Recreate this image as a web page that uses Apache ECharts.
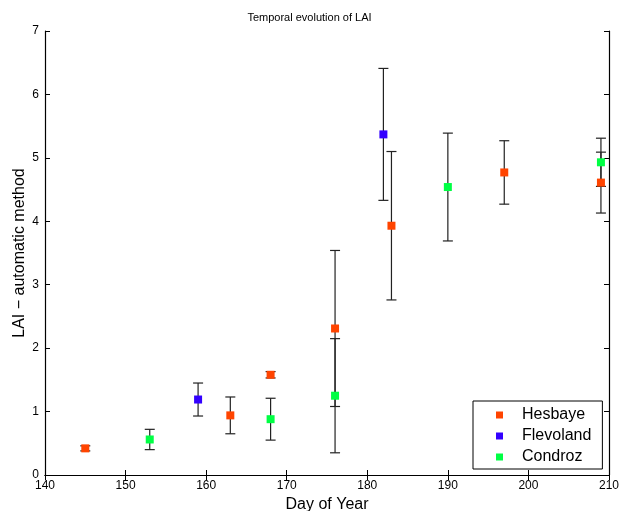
<!DOCTYPE html>
<html><head><meta charset="utf-8">
<script src="https://cdn.jsdelivr.net/npm/echarts@6/dist/echarts.min.js"></script>
<style>html,body{margin:0;padding:0;background:#fff}#c{width:619px;height:511px}</style>
</head><body><div id="c"></div>
<script>
const seriesNames = ['Hesbaye', 'Flevoland', 'Condroz'];
const seriesColors = ['#ff4400', '#3300ff', '#00ff44'];
const hesbayeDays = [145, 163, 168, 176, 183, 197, 209];
const hesbayeLAI  = [0.42, 0.94, 1.58, 2.31, 3.93, 4.77, 4.61];
const hesbayeErr  = [0.04, 0.29, 0.05, 1.23, 1.17, 0.50, 0.48];
const flevolandDays = [159, 182];
const flevolandLAI  = [1.19, 5.37];
const flevolandErr  = [0.26, 1.04];
const condrozDays = [153, 168, 176, 190, 209];
const condrozLAI  = [0.56, 0.88, 1.25, 4.54, 4.93];
const condrozErr  = [0.16, 0.33, 0.90, 0.85, 0.38];
const xTicks = [140, 150, 160, 170, 180, 190, 200, 210];
const yTicks = [0, 1, 2, 3, 4, 5, 6, 7];

const groups = [
  [hesbayeDays, hesbayeLAI, hesbayeErr],
  [flevolandDays, flevolandLAI, flevolandErr],
  [condrozDays, condrozLAI, condrozErr]
];

const font = 'Liberation Sans, Arial, sans-serif';
const series = [];
groups.forEach((g, i) => {
  const errData = g[0].map((d, k) => [d, g[1][k] - g[2][k], g[1][k] + g[2][k]]);
  series.push({
    type: 'custom',
    name: seriesNames[i] + ' err',
    xAxisIndex: 0, yAxisIndex: 0,
    z: 1,
    silent: true,
    data: errData,
    renderItem: function (params, api) {
      const x = api.value(0);
      const lo = api.coord([x, api.value(1)]);
      const hi = api.coord([x, api.value(2)]);
      const w = 5;
      const st = { stroke: '#222', lineWidth: 1.2 };
      return {
        type: 'group',
        children: [
          { type: 'line', shape: { x1: lo[0], y1: lo[1], x2: hi[0], y2: hi[1] }, style: st },
          { type: 'line', shape: { x1: lo[0] - w, y1: lo[1], x2: lo[0] + w, y2: lo[1] }, style: st },
          { type: 'line', shape: { x1: hi[0] - w, y1: hi[1], x2: hi[0] + w, y2: hi[1] }, style: st }
        ]
      };
    }
  });
});
groups.forEach((g, i) => {
  series.push({
    type: 'scatter',
    name: seriesNames[i],
    xAxisIndex: 0, yAxisIndex: 0,
    z: 3,
    symbol: 'rect',
    symbolSize: 8,
    itemStyle: { color: seriesColors[i], opacity: 1 },
    data: g[0].map((d, k) => [d, g[1][k]])
  });
});

const chart = echarts.init(document.getElementById('c'), null, { renderer: 'canvas' });
const tickCommon = { show: true, inside: true, length: 5, lineStyle: { color: '#000', width: 1 } };
chart.setOption({
  animation: false,
  backgroundColor: '#fff',
  title: {
    text: 'Temporal evolution of LAI',
    left: 'center', top: 7,
    textStyle: { fontFamily: font, fontSize: 11, fontWeight: 'normal', color: '#000' }
  },
  grid: { left: 45, right: 10, top: 31, bottom: 36, outerBoundsMode: 'none', containLabel: false },
  legend: {
    data: seriesNames,
    orient: 'vertical',
    left: 473, top: 401,
    width: 130,
    backgroundColor: '#fff',
    borderColor: '#000', borderWidth: 1,
    padding: [6, 11, 4, 23],
    itemWidth: 7, itemHeight: 7, itemGap: 5,
    icon: 'rect',
    textStyle: { fontFamily: font, fontSize: 16, color: '#000', lineHeight: 16, padding: [0, 0, 0, 14] }
  },
  xAxis: [{
    type: 'value', min: 140, max: 210, interval: 10,
    name: 'Day of Year', nameLocation: 'middle', nameGap: 20,
    nameTextStyle: { fontFamily: font, fontSize: 16, color: '#000' },
    axisLine: { show: true, lineStyle: { color: '#000', width: 1.2 } },
    axisTick: tickCommon,
    axisLabel: { fontFamily: font, fontSize: 12, color: '#000', margin: 5,
      formatter: v => xTicks.includes(v) ? String(v) : '' },
    splitLine: { show: false }
  }, {
    type: 'value', min: 140, max: 210, interval: 10, position: 'top',
    axisLine: { show: true, lineStyle: { color: '#000', width: 1.2 } },
    axisTick: tickCommon, axisLabel: { show: false }, splitLine: { show: false }
  }],
  yAxis: [{
    type: 'value', min: 0, max: 7, interval: 1,
    name: 'LAI \u2212 automatic method', nameLocation: 'middle', nameGap: 17,
    nameMoveOverlap: false,
    nameTextStyle: { fontFamily: font, fontSize: 16, color: '#000' },
    axisLine: { show: true, lineStyle: { color: '#000', width: 1.2 } },
    axisTick: tickCommon,
    axisLabel: { fontFamily: font, fontSize: 12, color: '#000', margin: 6,
      formatter: v => yTicks.includes(v) ? String(v) : '' },
    splitLine: { show: false }
  }, {
    type: 'value', min: 0, max: 7, interval: 1, position: 'right',
    axisLine: { show: true, lineStyle: { color: '#000', width: 1.2 } },
    axisTick: tickCommon, axisLabel: { show: false }, splitLine: { show: false }
  }],
  series: series
});
</script></body></html>
